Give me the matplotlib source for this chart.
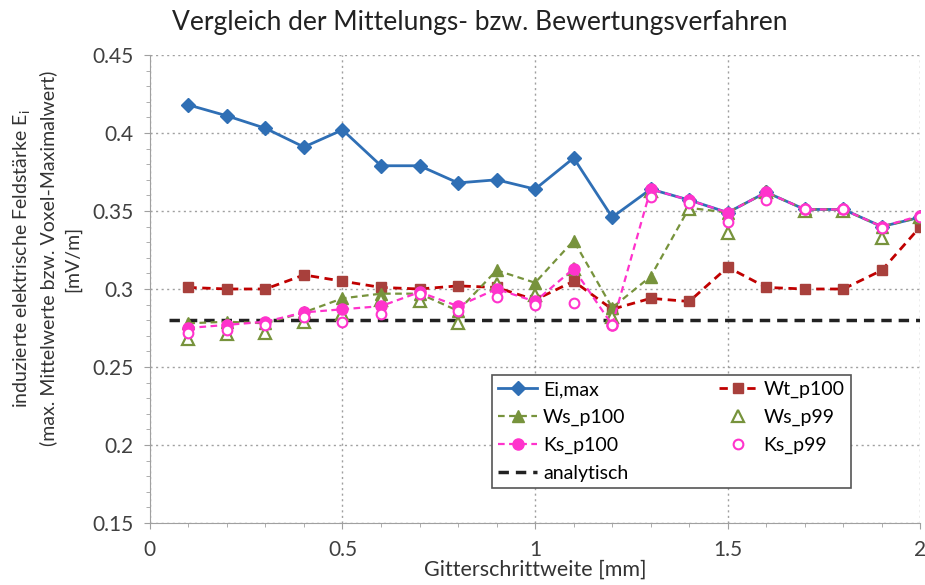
import numpy as np
import matplotlib.pyplot as plt
from matplotlib.ticker import MultipleLocator

plt.rcParams['font.family'] = ['Lato', 'DejaVu Sans']

# Gitterschrittweite [mm]
x = [0.1, 0.2, 0.3, 0.4, 0.5, 0.6, 0.7, 0.8, 0.9, 1.0,
     1.1, 1.2, 1.3, 1.4, 1.5, 1.6, 1.7, 1.8, 1.9, 2.0]

ei_max = [0.418, 0.411, 0.403, 0.391, 0.402, 0.379, 0.379, 0.368, 0.370, 0.364,
          0.384, 0.346, 0.364, 0.357, 0.349, 0.362, 0.351, 0.351, 0.340, 0.346]
wt_p100 = [0.301, 0.300, 0.300, 0.309, 0.305, 0.301, 0.300, 0.302, 0.301, 0.293,
           0.305, 0.287, 0.294, 0.292, 0.314, 0.301, 0.300, 0.300, 0.312, 0.340]
ws_p100 = [0.278, 0.279, 0.278, 0.285, 0.294, 0.297, 0.297, 0.286, 0.312, 0.304,
           0.331, 0.288, 0.308, 0.352, 0.349, 0.362, 0.351, 0.351, 0.340, 0.346]
ws_p99 = [0.268, 0.271, 0.272, 0.279, 0.284, 0.293, 0.292, 0.278, 0.303, 0.296,
          0.313, 0.282, 0.363, 0.351, 0.336, 0.362, 0.350, 0.350, 0.333, 0.346]
ks_p100 = [0.275, 0.277, 0.279, 0.285, 0.287, 0.289, 0.298, 0.289, 0.300, 0.292,
           0.313, 0.277, 0.364, 0.357, 0.349, 0.362, 0.351, 0.351, 0.340, 0.347]
ks_p99 = [0.272, 0.274, 0.277, 0.282, 0.279, 0.284, 0.297, 0.286, 0.295, 0.290,
          0.291, 0.277, 0.359, 0.355, 0.343, 0.357, 0.351, 0.351, 0.339, 0.346]

x_analyt = [0.05, 2.0]
analyt = [0.28, 0.28]

ylabel_lines = ['induzierte elektrische Feldstärke E$_\\mathregular{i}$',
                '(max. Mittelwerte bzw. Voxel-Maximalwert)',
                '[mV/m]']

fig = plt.figure(figsize=(9.25, 5.85), dpi=100)
ax = fig.add_axes([0.162, 0.106, 0.833, 0.8])

h_ei, = ax.plot(x, ei_max, '-D', color='#2f6fb5', lw=2, ms=7, label='Ei,max', zorder=3)
h_wt, = ax.plot(x, wt_p100, '--s', color='#c00000', mfc='#a8403c', mec='#a8403c',
                lw=2, ms=7, dashes=(3, 2), label='Wt_p100', zorder=4)
h_ws, = ax.plot(x, ws_p100, '--^', color='#77933c', lw=1.6, ms=8, dashes=(3, 2),
                label='Ws_p100', zorder=5)
h_ws99, = ax.plot(x, ws_p99, '^', ls='none', mfc='white', mec='#77933c', mew=1.6,
                  ms=9, label='Ws_p99', zorder=6)
h_ks, = ax.plot(x, ks_p100, '--o', color='#ff33cc', lw=1.6, ms=8, dashes=(3, 2),
                label='Ks_p100', zorder=7)
h_ks99, = ax.plot(x, ks_p99, 'o', ls='none', mfc='white', mec='#ff33cc', mew=1.5,
                  ms=7, label='Ks_p99', zorder=8)
h_an, = ax.plot(x_analyt, analyt, '--', color='#222222', lw=2.5, dashes=(3, 2),
                label='analytisch', zorder=2)

ax.set_xlim(0, 2)
ax.set_ylim(0.15, 0.45)
ax.xaxis.set_minor_locator(MultipleLocator(0.1))
ax.yaxis.set_minor_locator(MultipleLocator(0.01))
ax.set_xticks([0, 0.5, 1, 1.5, 2], ['0', '0.5', '1', '1.5', '2'])
ax.set_yticks([0.15, 0.2, 0.25, 0.3, 0.35, 0.4, 0.45],
              ['0.15', '0.2', '0.25', '0.3', '0.35', '0.4', '0.45'])
ax.grid(True, which='major', color='#a0a0a0', ls=(0, (1.5, 2.5)), lw=1)
ax.tick_params(which='both', color='#a0a0a0', labelsize=15, labelcolor='#404040')
ax.tick_params(which='major', length=4, pad=8)
ax.tick_params(which='minor', length=3)
for s in ['top', 'right']:
    ax.spines[s].set_visible(False)
for s in ['left', 'bottom']:
    ax.spines[s].set_color('#a0a0a0')

fig.text(0.519, 0.962, 'Vergleich der Mittelungs- bzw. Bewertungsverfahren',
         fontsize=19, color='#222222', ha='center', va='center')
ax.set_xlabel('Gitterschrittweite [mm]', fontsize=15.5, color='#333333', labelpad=0)

# three centred y-label lines
for xp, line in zip([0.024, 0.052, 0.079], ylabel_lines):
    fig.text(xp, 0.558, line, rotation=90, ha='center', va='center',
             fontsize=14, color='#333333')

leg = ax.legend([h_ei, h_ws, h_ks, h_an, h_wt, h_ws99, h_ks99],
                ['Ei,max', 'Ws_p100', 'Ks_p100', 'analytisch', 'Wt_p100', 'Ws_p99', 'Ks_p99'],
                ncol=2, loc='lower left', bbox_to_anchor=(0.432, 0.055, 0.49, 0.28),
                mode='expand', fontsize=14, handlelength=2.0, handletextpad=0.3,
                fancybox=False, framealpha=1, edgecolor='#555555', borderpad=0.3,
                labelspacing=0.55)
leg.get_frame().set_linewidth(1.2)
leg.set_zorder(10)

fig.savefig('out.png', dpi=100)
